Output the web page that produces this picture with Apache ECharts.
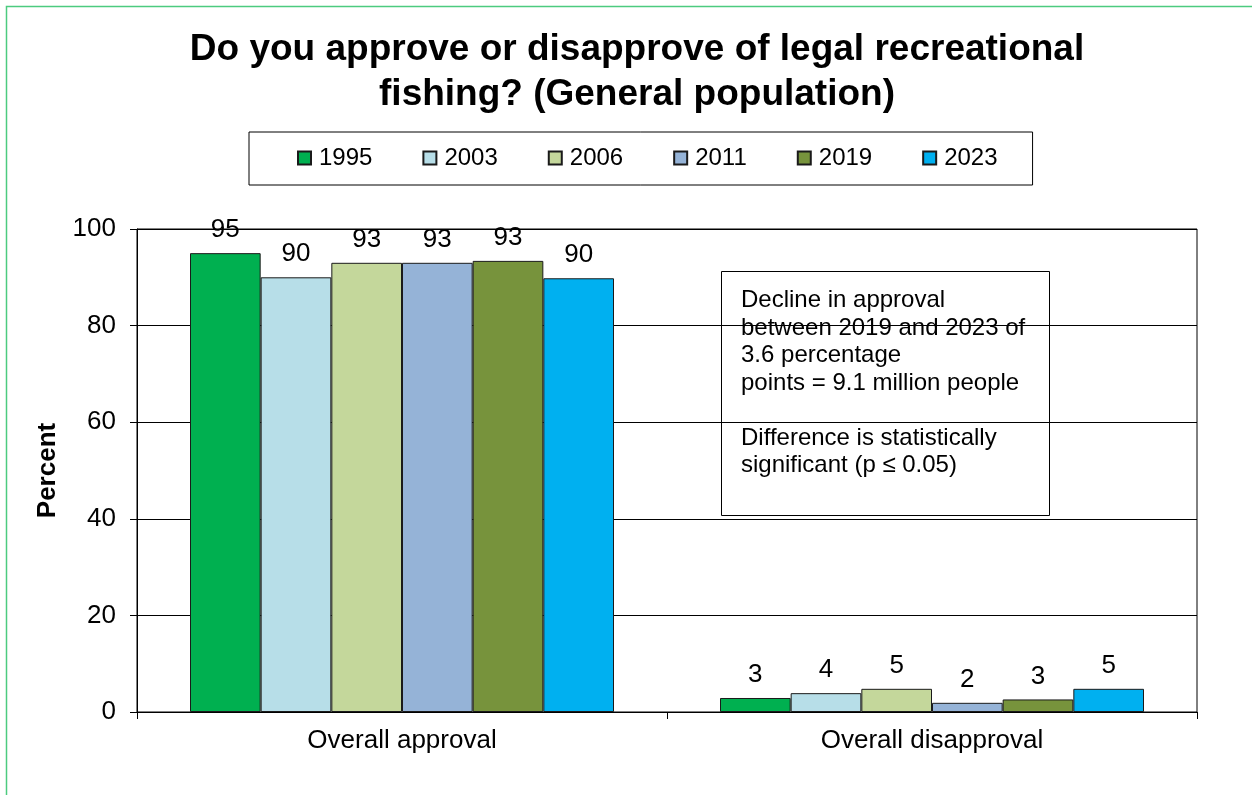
<!DOCTYPE html>
<html>
<head>
<meta charset="utf-8">
<script src="https://cdn.jsdelivr.net/npm/echarts@6/dist/echarts.min.js"></script>
<style>
html,body{margin:0;padding:0;background:#fff;}
#chart{width:1252px;height:795px;}
</style>
</head>
<body>
<div id="chart"></div>
<script>
const categories = ['Overall approval', 'Overall disapproval'];
const years = ['1995', '2003', '2006', '2011', '2019', '2023'];
const v1995 = [95.0, 2.9];
const v2003 = [90.0, 3.9];
const v2006 = [93.0, 4.8];
const v2011 = [93.0, 1.9];
const v2019 = [93.4, 2.6];
const v2023 = [89.8, 4.8];
const yTicks = [0, 20, 40, 60, 80, 100];
const colors = ['#00b050', '#b7dee8', '#c4d79b', '#95b3d7', '#77933c', '#00b0f0'];
const titleText = 'Do you approve or disapprove of legal recreational\nfishing? (General population)';
const noteLines = [
  'Decline in approval',
  'between 2019 and 2023 of',
  '3.6 percentage',
  'points = 9.1 million people',
  '',
  'Difference is statistically',
  'significant (p \u2264 0.05)'
];

const seriesValues = [v1995, v2003, v2006, v2011, v2019, v2023];
const FONT = '"Liberation Sans", Arial, sans-serif';

const chart = echarts.init(document.getElementById('chart'), null, {renderer: 'canvas'});

const series = years.map((y, i) => ({
  name: y,
  type: 'bar',
  data: seriesValues[i],
  barGap: '0%',
  barCategoryGap: '20%',
  itemStyle: {color: colors[i], borderColor: '#1a1a1a', borderWidth: 1},
  label: {
    show: true,
    position: 'top',
    distance: 10,
    color: '#000',
    fontSize: 26,
    fontFamily: FONT,
    formatter: p => String(Math.round(p.value))
  },
  emphasis: {disabled: true}
}));

const option = {
  backgroundColor: '#fff',
  animation: false,
  title: {
    text: titleText,
    left: 637,
    textAlign: 'center',
    top: 27,
    padding: 0,
    textStyle: {fontFamily: FONT, fontSize: 37, fontWeight: 'bold', color: '#000', lineHeight: 45}
  },
  legend: {
    data: years,
    left: 249,
    top: 132,
    padding: [14, 35, 15, 48],
    itemGap: 50,
    itemWidth: 13,
    itemHeight: 13,
    icon: 'rect',
    borderColor: '#000',
    borderWidth: 1,
    textStyle: {fontFamily: FONT, fontSize: 24, color: '#000', padding: [0, 0, 0, 3]}
  },
  grid: {
    left: 137, right: 55, top: 229, bottom: 83,
    show: true, borderColor: '#000', borderWidth: 1,
    containLabel: false
  },
  xAxis: {
    type: 'category',
    data: categories,
    axisLine: {show: true, lineStyle: {color: '#000', width: 1}},
    axisTick: {show: true, alignWithLabel: false, length: 7, lineStyle: {color: '#000'}},
    axisLabel: {fontFamily: FONT, fontSize: 26, color: '#000', margin: 16}
  },
  yAxis: {
    type: 'value',
    min: yTicks[0],
    max: yTicks[yTicks.length - 1],
    interval: yTicks[1] - yTicks[0],
    name: 'Percent',
    nameLocation: 'middle',
    nameGap: 76,
    nameRotate: 90,
    nameTextStyle: {fontFamily: FONT, fontSize: 26, fontWeight: 'bold', color: '#000'},
    axisLine: {show: true, lineStyle: {color: '#000', width: 1}},
    axisTick: {show: true, length: 7, lineStyle: {color: '#000'}},
    axisLabel: {fontFamily: FONT, fontSize: 26, color: '#000', margin: 21},
    splitLine: {show: true, lineStyle: {color: '#000', width: 1}}
  },
  graphic: [
    {
      type: 'rect',
      silent: true,
      shape: {x: 6.5, y: 6.5, width: 1400, height: 1000},
      style: {fill: 'none', stroke: '#4ccb7f', lineWidth: 1.5},
      z: 100
    },
    {
      type: 'group',
      z: 100,
      children: [
        {
          type: 'rect',
          shape: {x: 721.5, y: 271.5, width: 328, height: 244},
          style: {fill: '#fff', stroke: '#000', lineWidth: 1}
        },
        {
          type: 'text',
          x: 741,
          y: 287,
          style: {
            text: noteLines.join('\n'),
            fontFamily: FONT,
            fontSize: 24,
            lineHeight: 27.5,
            fill: '#000',
            align: 'left',
            verticalAlign: 'top'
          }
        }
      ]
    }
  ],
  series: series
};

chart.setOption(option);
</script>
</body>
</html>
